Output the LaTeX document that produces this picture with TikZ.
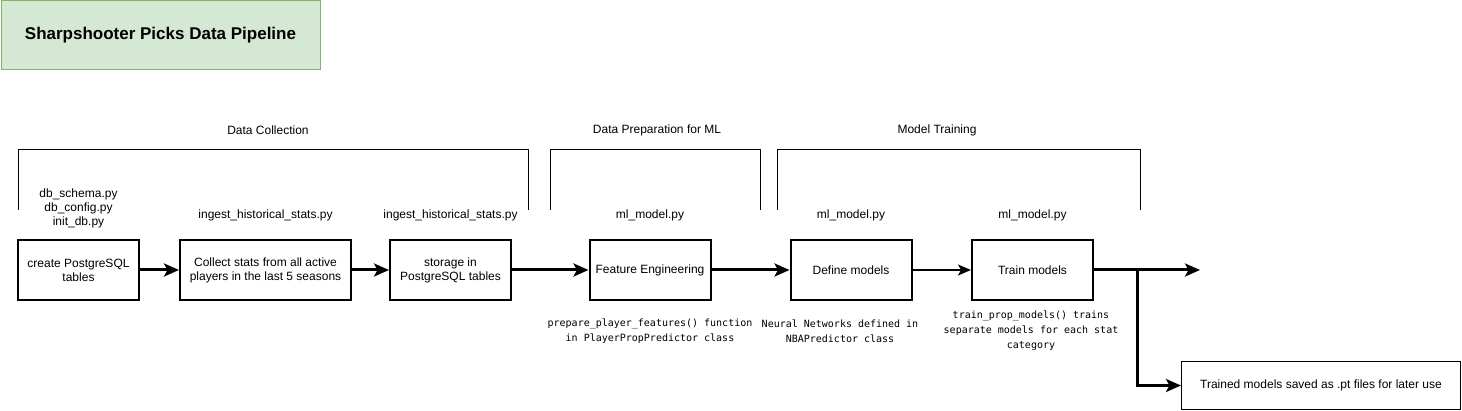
\documentclass[tikz,border=0pt]{standalone}
\usepackage{fontspec}
\setmainfont{Liberation Sans}
\setmonofont{DejaVu Sans Mono}
\usetikzlibrary{arrows.meta}
\usepackage{xcolor}
\definecolor{titlefill}{HTML}{D5E8D4}
\definecolor{titleline}{HTML}{82B366}

\tikzset{
  stagebox/.style={rectangle, draw, line width=2pt, inner sep=0pt, minimum height=60pt, minimum width=121pt, align=center, font=\fontsize{12}{14}\selectfont},
  filelabel/.style={align=center, font=\fontsize{12}{14}\selectfont},
  codelabel/.style={align=center, font=\fontsize{10}{15}\ttfamily},
  bracket/.style={line width=1pt},
  flow/.style={line width=3pt, -{Stealth[length=15pt, width=13pt, inset=3.5pt]}},
  thinflow/.style={line width=1.5pt, -{Stealth[length=13pt, width=11pt, inset=3pt]}}
}

\begin{document}
\begin{tikzpicture}[x=1pt, y=-1pt]
  \useasboundingbox (0,0) rectangle (1462,411);
  % Header
  \node (title) [rectangle, draw=titleline, fill=titlefill, line width=1pt, minimum width=319pt, minimum height=69pt, font=\fontsize{17}{20}\selectfont\bfseries] at (160.5,35) {Sharpshooter Picks Data Pipeline};
  % Sections
  \node (sec1) [filelabel] at (268,130) {Data Collection};
  \node (sec2) [filelabel] at (657,130) {Data Preparation for ML};
  \node (sec3) [filelabel] at (937,130) {Model Training};
  \draw[bracket] (18,210) -- (18,150) -- (528,150) -- (528,210);
  \draw[bracket] (550,210) -- (550,150) -- (760,150) -- (760,210);
  \draw[bracket] (777,210) -- (777,150) -- (1140,150) -- (1140,210);
  % Nodes
  \node (create) [stagebox] at (78.5,270) {create PostgreSQL\\tables};
  \node (collect) [stagebox, minimum width=171pt] at (265.5,270) {Collect stats from all active\\players in the last 5 seasons};
  \node (storage) [stagebox] at (450.5,270) {storage in\\PostgreSQL tables};
  \node (feat) [stagebox] at (650,270) {Feature Engineering};
  \node (define) [stagebox] at (851,270) {Define models};
  \node (train) [stagebox] at (1032.5,270) {Train models};
  \node (saved) [rectangle, draw, line width=1pt, minimum width=279pt, minimum height=48pt, font=\fontsize{12}{14}\selectfont] at (1321,385.5) {Trained models saved as .pt files for later use};
  \coordinate (split) at (1137,270);
  \coordinate (out) at (1200,270);
  % Files
  \node (dbfiles) [filelabel] at (78.5,208) {db\_schema.py\\db\_config.py\\init\_db.py};
  \node (ingest1) [filelabel] at (265.5,215) {ingest\_historical\_stats.py};
  \node (ingest2) [filelabel] at (450.5,215) {ingest\_historical\_stats.py};
  \node (ml1) [filelabel] at (650,215) {ml\_model.py};
  \node (ml2) [filelabel] at (851,215) {ml\_model.py};
  \node (ml3) [filelabel] at (1032.5,215) {ml\_model.py};
  % Notes
  \node (note1) [codelabel] at (650,331) {prepare\_player\_features() function\\in PlayerPropPredictor class};
  \node (note2) [codelabel] at (840,331) {Neural Networks defined in\\NBAPredictor class};
  \node (note3) [codelabel] at (1031,331) {train\_prop\_models() trains\\separate models for each stat\\category};
  % Arrow
  \draw[flow] (create) -- (collect);
  \draw[flow] (collect) -- (storage);
  \draw[flow] (storage) -- (feat);
  \draw[flow] (feat) -- (define);
  \draw[thinflow] (define) -- (train);
  \draw[flow] (train) -- (out);
  \draw[flow] (split) |- (saved);
\end{tikzpicture}
\end{document}
